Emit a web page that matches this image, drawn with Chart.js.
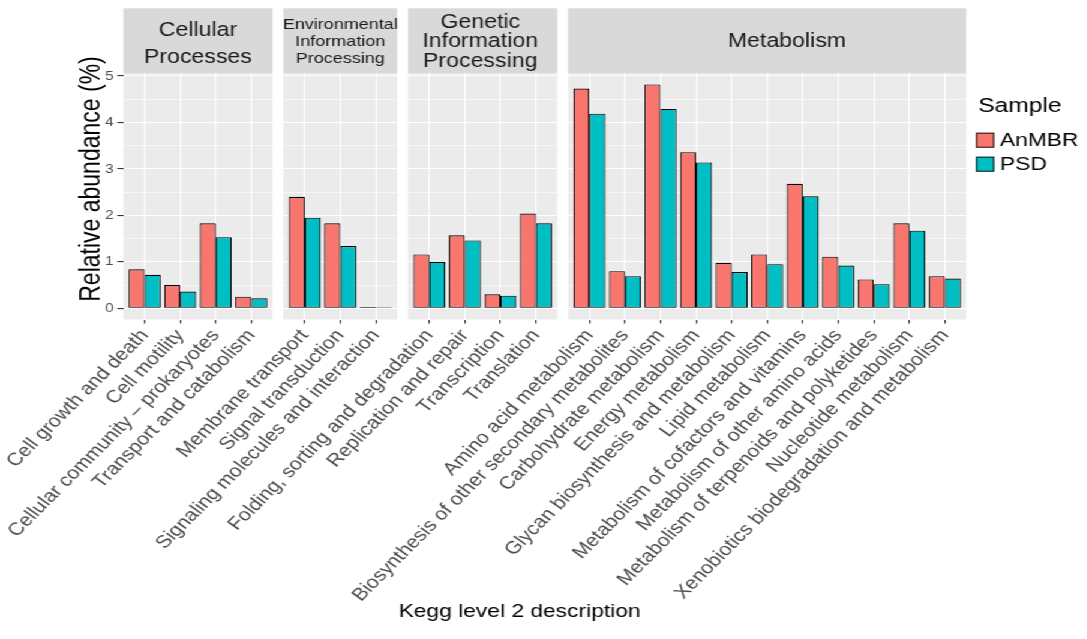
<!DOCTYPE html>
<html>
<head>
<meta charset="utf-8">
<script src="https://cdn.jsdelivr.net/npm/chart.js@4.4.1/dist/chart.umd.min.js"></script>
<style>
  html, body { margin: 0; padding: 0; background: #ffffff; overflow: hidden; }
  #wrap { position: absolute; left: 0; top: 0; width: 906px; height: 639px; transform: scaleX(1.2); transform-origin: 0 0; }
  #wrap canvas { position: absolute; left: 0; top: 0; }
</style>
</head>
<body>
<div id="wrap">
  <canvas id="c0" width="906" height="639"></canvas>
  <canvas id="c1" width="906" height="639"></canvas>
  <canvas id="c2" width="906" height="639"></canvas>
  <canvas id="c3" width="906" height="639"></canvas>
</div>
<script>
// ---------------- data ----------------
const sampleNames = ['AnMBR', 'PSD'];
const yTickValues = [0, 1, 2, 3, 4, 5];
const yMinorValues = [0.5, 1.5, 2.5, 3.5, 4.5];

const cellStrip = ['Cellular', 'Processes'];
const cellCategories = ['Cell growth and death', 'Cell motility', 'Cellular community \u2013 prokaryotes', 'Transport and catabolism'];
const cellAnMBR = [0.84, 0.50, 1.83, 0.25];
const cellPSD   = [0.72, 0.36, 1.53, 0.215];

const envStrip = ['Environmental', 'Information', 'Processing'];
const envCategories = ['Membrane transport', 'Signal transduction', 'Signaling molecules and interaction'];
const envAnMBR = [2.40, 1.83, 0.03];
const envPSD   = [1.95, 1.34, 0.025];

const genStrip = ['Genetic', 'Information', 'Processing'];
const genCategories = ['Folding, sorting and degradation', 'Replication and repair', 'Transcription', 'Translation'];
const genAnMBR = [1.16, 1.57, 0.30, 2.04];
const genPSD   = [1.00, 1.46, 0.27, 1.83];

const metStrip = ['Metabolism'];
const metCategories = ['Amino acid metabolism', 'Biosynthesis of other secondary metabolites', 'Carbohydrate metabolism',
  'Energy metabolism', 'Glycan biosynthesis and metabolism', 'Lipid metabolism', 'Metabolism of cofactors and vitamins',
  'Metabolism of other amino acids', 'Metabolism of terpenoids and polyketides', 'Nucleotide metabolism',
  'Xenobiotics biodegradation and metabolism'];
const metAnMBR = [4.73, 0.80, 4.82, 3.36, 0.98, 1.16, 2.68, 1.11, 0.62, 1.83, 0.69];
const metPSD   = [4.19, 0.69, 4.29, 3.14, 0.78, 0.95, 2.41, 0.92, 0.52, 1.67, 0.64];

const yTitle = 'Relative abundance (%)';
const xTitle = 'Kegg level 2 description';
const legendTitle = 'Sample';

// ---------------- layout / style ----------------
const FONT = "'Liberation Sans', Arial, Helvetica, sans-serif";
Chart.defaults.font.family = FONT;
const W = 906, H = 639;
const COLORS = ['#F8766D', '#00BFC4'];
const PANEL_BG = '#EBEBEB', STRIP_BG = '#D9D9D9';
const PANEL_LEFT = 102.75, UNIT = 29.625, GAP = 9, EXPAND = 0.6;
const PANEL_TOP = 73.2, PANEL_BOTTOM = 319.5, STRIP_TOP = 8.3;
const Y_MIN = -0.241, Y_MAX = 5.061;
const Y_AXIS_W = 30;
const X_AXIS_H = H - PANEL_BOTTOM;

const panels = [
  { cats: cellCategories, a: cellAnMBR, p: cellPSD, strip: cellStrip, stripStyle: { size: 19.3, gap: 27.3, cy: 42.6, dx: 0 } },
  { cats: envCategories,  a: envAnMBR,  p: envPSD,  strip: envStrip,  stripStyle: { size: 15, gap: 16.7, cy: 40.5, dx: 0 } },
  { cats: genCategories,  a: genAnMBR,  p: genPSD,  strip: genStrip,  stripStyle: { size: 19.3, gap: 19.2, cy: 40.5, dx: -2 } },
  { cats: metCategories,  a: metAnMBR,  p: metPSD,  strip: metStrip,  stripStyle: { size: 19.3, gap: 20, cy: 40.3, dx: 16.5 } }
];

const decor = {
  id: 'decor',
  beforeDraw(chart, args, o) {
    const { ctx, chartArea: a } = chart;
    ctx.save();
    ctx.fillStyle = PANEL_BG;
    ctx.fillRect(a.left, a.top, a.right - a.left, a.bottom - a.top);
    ctx.fillStyle = STRIP_BG;
    ctx.fillRect(a.left, STRIP_TOP, a.right - a.left, a.top - STRIP_TOP);
    const st = o.stripStyle;
    ctx.fillStyle = '#1A1A1A';
    ctx.font = st.size + 'px ' + FONT;
    ctx.textAlign = 'center';
    ctx.textBaseline = 'alphabetic';
    const n = o.strip.length;
    o.strip.forEach((line, i) => {
      const y = st.cy + (i - (n - 1) / 2) * st.gap + 0.716 * st.size / 2;
      ctx.fillText(line, (a.left + a.right) / 2 + st.dx, y);
    });
    ctx.restore();
  },
  afterDraw(chart, args, o) {
    const ctx = chart.ctx;
    ctx.save();
    if (o.titles) {
      ctx.fillStyle = '#000000';
      ctx.font = '23px ' + FONT;
      ctx.textAlign = 'center';
      ctx.textBaseline = 'middle';
      ctx.save();
      ctx.translate(76.7, 179);
      ctx.rotate(-Math.PI / 2);
      ctx.fillText(yTitle, 0, 0);
      ctx.restore();
      ctx.font = '19px ' + FONT;
      ctx.textBaseline = 'alphabetic';
      ctx.fillText(xTitle, 433, 617.3);
    }
    if (o.legend) {
      ctx.fillStyle = '#000000';
      ctx.textAlign = 'left';
      ctx.textBaseline = 'alphabetic';
      ctx.font = '20.5px ' + FONT;
      ctx.fillText(legendTitle, 815.2, 111.7);
      chart.data.datasets.forEach((ds, i) => {
        const y = 132.7 + i * 24;
        ctx.fillStyle = ds.backgroundColor;
        ctx.fillRect(813.3, y, 15.2, 15);
        ctx.strokeStyle = '#1A1A1A';
        ctx.lineWidth = 1;
        ctx.strokeRect(813.8, y + 0.5, 14.2, 14);
        ctx.fillStyle = '#000000';
        ctx.font = '19px ' + FONT;
        ctx.textBaseline = 'middle';
        ctx.fillText(ds.label, 833.3, y + 8);
      });
    }
    ctx.restore();
  }
};

let left = PANEL_LEFT;
panels.forEach((pn, k) => {
  const n = pn.cats.length;
  const right = left + (n - 1 + 2 * EXPAND) * UNIT;
  const yw = k === 0 ? Y_AXIS_W : 0;
  const isMajor = c => c && c.tick && yTickValues.includes(c.tick.value);
  new Chart(document.getElementById('c' + k), {
    type: 'bar',
    data: {
      datasets: [
        { label: sampleNames[0], data: pn.a.map((v, i) => ({ x: i, y: v })), backgroundColor: COLORS[0] },
        { label: sampleNames[1], data: pn.p.map((v, i) => ({ x: i, y: v })), backgroundColor: COLORS[1] }
      ]
    },
    options: {
      responsive: false,
      animation: false,
      events: [],
      datasets: { bar: { categoryPercentage: 0.9, barPercentage: 1.0, borderColor: '#000000', borderWidth: 1.1, borderSkipped: false } },
      layout: { padding: { left: left - yw, right: W - right, top: PANEL_TOP, bottom: H - PANEL_BOTTOM - X_AXIS_H } },
      scales: {
        x: {
          type: 'linear', offset: false, bounds: 'data', min: -EXPAND, max: n - 1 + EXPAND,
          afterBuildTicks: s => { s.ticks = pn.cats.map((c, i) => ({ value: i })); },
          afterFit: s => { s.height = X_AXIS_H; s.paddingLeft = 0; s.paddingRight = 0; },
          ticks: { autoSkip: false, minRotation: 50, maxRotation: 50, padding: 2, color: '#4D4D4D', font: { size: 17.8 },
                   callback: v => pn.cats[v] },
          grid: { offset: false, color: '#FFFFFF', lineWidth: 1.1, drawTicks: true, tickLength: 4, tickColor: '#333333', tickWidth: 1.1 },
          border: { display: false }
        },
        y: {
          type: 'linear', bounds: 'data', min: Y_MIN, max: Y_MAX,
          afterBuildTicks: s => { s.ticks = yTickValues.concat(yMinorValues).sort((a, b) => a - b).map(v => ({ value: v })); },
          afterFit: s => { s.width = yw; s.paddingTop = 0; s.paddingBottom = 0; },
          ticks: { display: k === 0, padding: 3, color: '#4D4D4D', font: { size: 13 },
                   callback: v => yTickValues.includes(v) ? String(v) : '' },
          grid: { color: '#FFFFFF', lineWidth: c => isMajor(c) ? 1.1 : 0.55, drawTicks: k === 0, tickLength: 5,
                  tickColor: c => isMajor(c) ? '#333333' : 'rgba(0,0,0,0)', tickWidth: 1.1 },
          border: { display: false }
        }
      },
      plugins: {
        legend: { display: false },
        tooltip: { enabled: false },
        decor: { strip: pn.strip, stripStyle: pn.stripStyle, titles: k === 0, legend: k === panels.length - 1 }
      }
    },
    plugins: [decor]
  });
  left = right + GAP;
});
</script>
</body>
</html>
